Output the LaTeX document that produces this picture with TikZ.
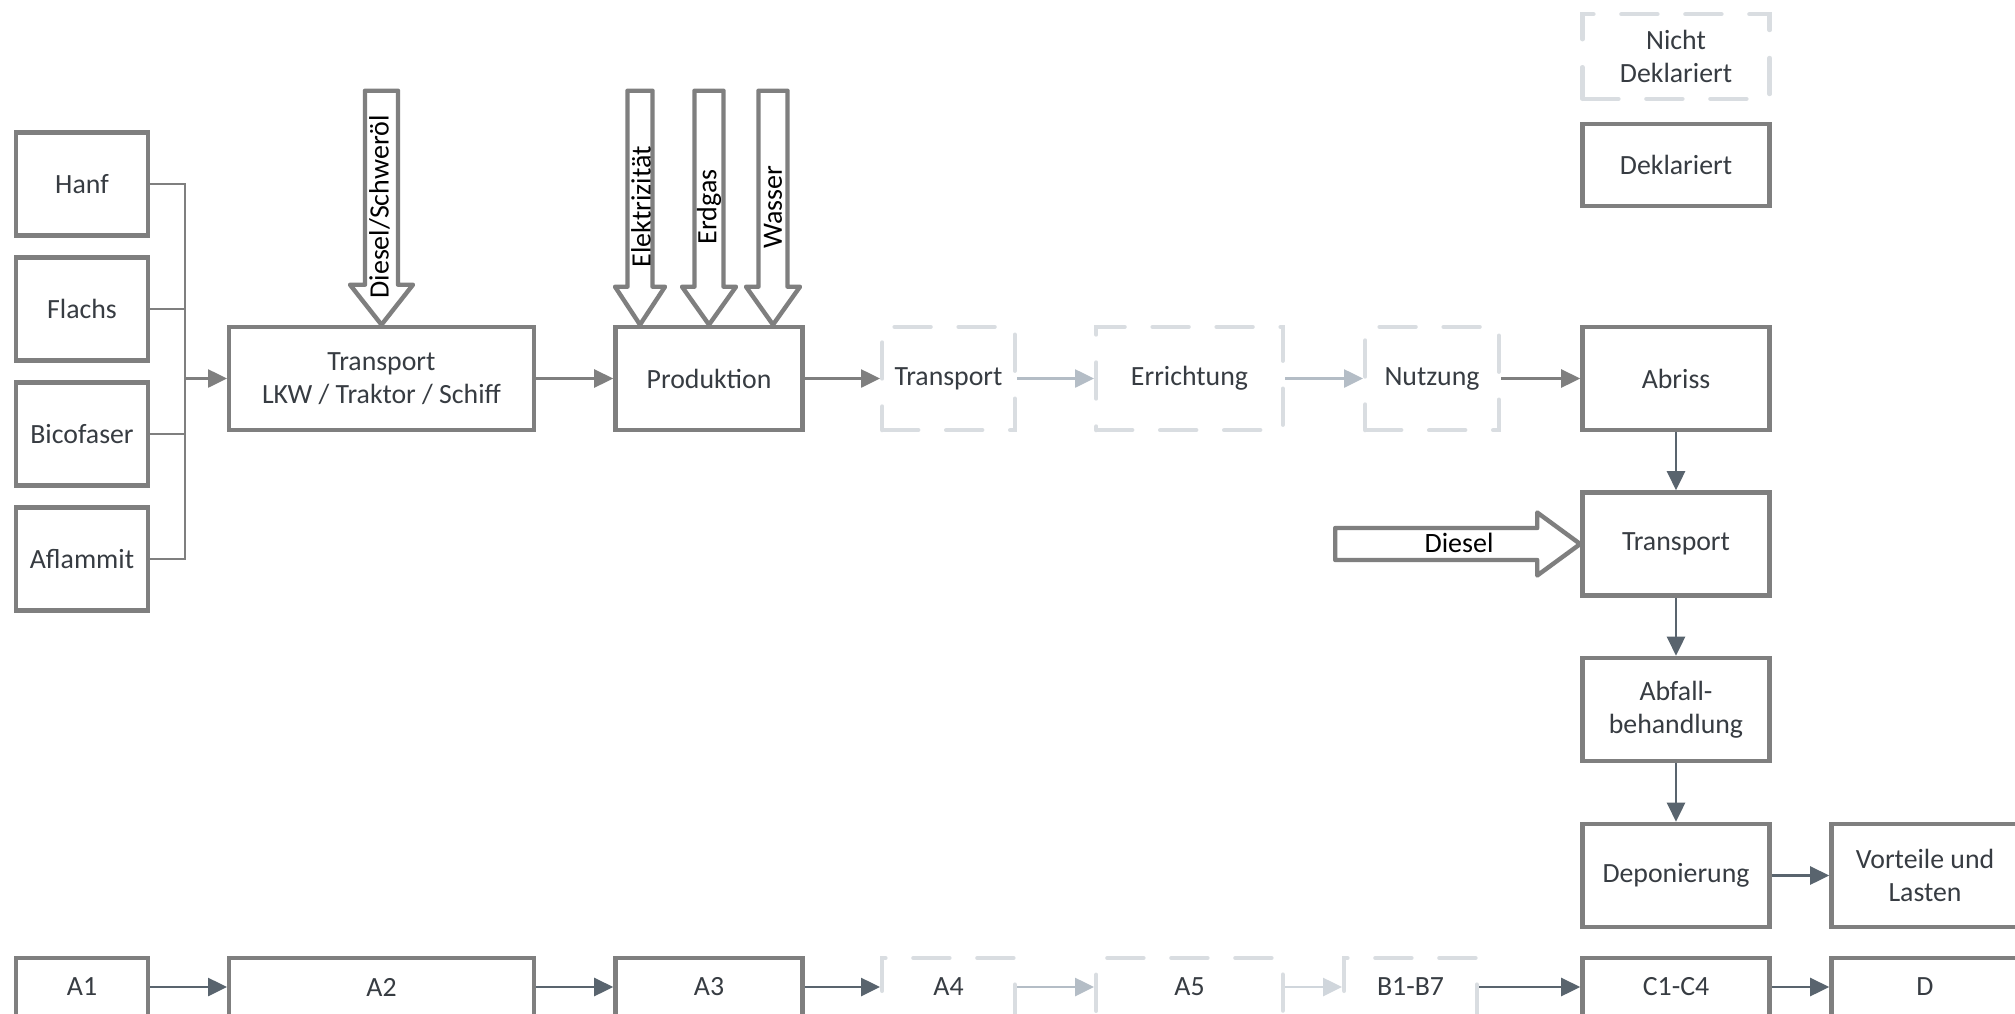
\documentclass[tikz,border=0pt]{standalone}
\usepackage{fontspec}
\setmainfont{Carlito}
\usetikzlibrary{arrows.meta,calc}
\definecolor{boxgray}{RGB}{127,127,127}
\definecolor{txtcol}{RGB}{55,60,66}
\definecolor{dashgray}{RGB}{217,221,225}
\definecolor{lightconn}{RGB}{180,189,198}
\definecolor{lighterconn}{RGB}{208,214,220}
\definecolor{slate}{RGB}{89,100,110}
\newcommand\blkdown[5]{%
  \draw[bigarrow] (#1) -- ++(-#3,-#4) -- ++({#3-#2},0) -- ++(0,{#4-#5}) -- ++({2*#2},0) -- ++(0,{#5-#4}) -- ++({#3-#2},0) -- cycle;}
\newcommand\blkright[5]{%
  \draw[bigarrow] (#1) -- ++(-#4,-#3) -- ++(0,{#3-#2}) -- ++({#4-#5},0) -- ++(0,{2*#2}) -- ++({#5-#4},0) -- ++(0,{#3-#2}) -- cycle;}
\tikzset{
  box/.style={draw=boxgray, line width=2.2pt, fill=white, text=txtcol, align=center, inner sep=0pt,
    font=\fontsize{13.9}{16.3}\selectfont, minimum height=51.6pt},
  dbox/.style={box, draw=dashgray, dash pattern=on 18pt off 14pt, line cap=round},
  wS/.style={minimum width=65.8pt},
  wM/.style={minimum width=93.6pt},
  wL/.style={minimum width=152.3pt},
  bottomrow/.style={minimum height=29pt},
  thinline/.style={draw=boxgray, line width=1.2pt},
  conn/.style={line width=1.3pt, -{Triangle[length=9.5pt,width=9pt]}},
  cgray/.style={conn, color=boxgray},
  cslate/.style={conn, color=slate},
  clight/.style={conn, color=lightconn},
  clighter/.style={conn, color=lighterconn},
  bigarrow/.style={draw=boxgray, line width=2.2pt, fill=white, line join=round},
  lbl/.style={text=black, inner sep=0pt, font=\fontsize{14}{16.3}\selectfont}
}
\begin{document}
\begin{tikzpicture}[x=0.5pt,y=-0.5pt]
\path[fill=white, use as bounding box] (0,0) rectangle (2015,1013);

% inputs
\node[box, wS] (hanf) at (82,184) {Hanf};
\node[box, wS] (flachs) at (82,309) {Flachs};
\node[box, wS] (bico) at (82,434) {Bicofaser};
\node[box, wS] (afl) at (82,559) {Aflammit};

% main row
\node[box, wL] (tr1) at (381.5,378.5) {Transport\\LKW / Traktor / Schiff};
\node[box, wM] (prod) at (709,378.5) {Produktion};
\node[dbox, minimum width=66.3pt] (tr2) at (948.5,378.5) {Transport};
\node[dbox, minimum width=93.3pt] (err) at (1189.5,378.5) {Errichtung};
\node[dbox, minimum width=66.8pt] (nutz) at (1432,378.5) {Nutzung};
\node[box, wM] (abr) at (1676,378.5) {Abriss};

% legend
\node[dbox, wM, minimum height=42.3pt] (nd) at (1676,56.5) {Nicht\\Deklariert};
\node[box, wM, minimum height=40.8pt] (dk) at (1676,165) {Deklariert};

% end of life column
\node[box, wM] (tr3) at (1676,544) {Transport};
\node[box, wM] (abf) at (1676,709.5) {Abfall-\\behandlung};
\node[box, wM] (dep) at (1676,875.5) {Deponierung};
\node[box, wM] (vor) at (1925,875.5) {Vorteile und\\Lasten};

% bottom row
\node[box, wS, bottomrow] (a1) at (82,987) {A1};
\node[box, wL, bottomrow] (a2) at (381.5,987) {A2};
\node[box, wM, bottomrow] (a3) at (709,987) {A3};
\node[dbox, minimum width=66.3pt, bottomrow] (a4) at (948.5,987) {A4};
\node[dbox, minimum width=93.3pt, bottomrow] (a5) at (1189.5,987) {A5};
\node[dbox, minimum width=66.3pt, bottomrow] (b17) at (1410.5,987) {B1-B7};
\node[box, wM, bottomrow] (c14) at (1676,987) {C1-C4};
\node[box, wM, bottomrow] (d) at (1925,987) {D};

% bus
\coordinate (bus) at (185,378.5);
\draw[thinline] (hanf.east) -- (hanf.east -| bus) -- (afl.east -| bus) -- (afl.east);
\draw[thinline] (flachs.east) -- (flachs.east -| bus);
\draw[thinline] (bico.east) -- (bico.east -| bus);
\draw[cgray] (bus) -- (tr1.west);

% main row connectors
\draw[cgray] (tr1.east) -- (prod.west);
\draw[cgray] (prod.east) -- (tr2.west);
\draw[clight] (tr2.east) -- (err.west);
\draw[clight] (err.east) -- (nutz.west);
\draw[cgray] (nutz.east) -- (abr.west);
\draw[cslate] (abr.south) -- (tr3.north);
\draw[cslate] (tr3.south) -- (abf.north);
\draw[cslate] (abf.south) -- (dep.north);
\draw[cslate] (dep.east) -- (vor.west);

% bottom row connectors
\draw[cslate] (a1.east) -- (a2.west);
\draw[cslate] (a2.east) -- (a3.west);
\draw[cslate] (a3.east) -- (a4.west);
\draw[clight] (a4.east) -- (a5.west);
\draw[clighter] (a5.east) -- (b17.west);
\draw[cslate] (b17.east) -- (c14.west);
\draw[cslate] (c14.east) -- (d.west);

% block arrows
\coordinate (tipds) at (tr1.north);
\coordinate (tipel) at ($(prod.north)+(-69,0)$);
\coordinate (tipeg) at (prod.north);
\coordinate (tipwa) at ($(prod.north)+(64,0)$);
\coordinate (tipdi) at (tr3.west);
\blkdown{tipds}{16.5}{31.5}{40}{234}
\blkdown{tipel}{12.5}{25}{38}{234}
\blkdown{tipeg}{14.5}{27}{38}{234}
\blkdown{tipwa}{14.5}{27}{38}{234}
\blkright{tipdi}{16}{31.5}{43}{245}

\node[lbl, rotate=90] (lds) at ($(tipds |- 0,207)+(-2,0)$) {Diesel/Schweröl};
\node[lbl, rotate=90] (lel) at ($(tipel |- 0,207)+(1,0)$) {Elektrizität};
\node[lbl, rotate=90] (leg) at ($(tipeg |- 0,207)+(0,0)$) {Erdgas};
\node[lbl, rotate=90] (lwa) at ($(tipwa |- 0,207)+(0,0)$) {Wasser};
\node[lbl] (ldi) at (1459,543) {Diesel};
\end{tikzpicture}
\end{document}
